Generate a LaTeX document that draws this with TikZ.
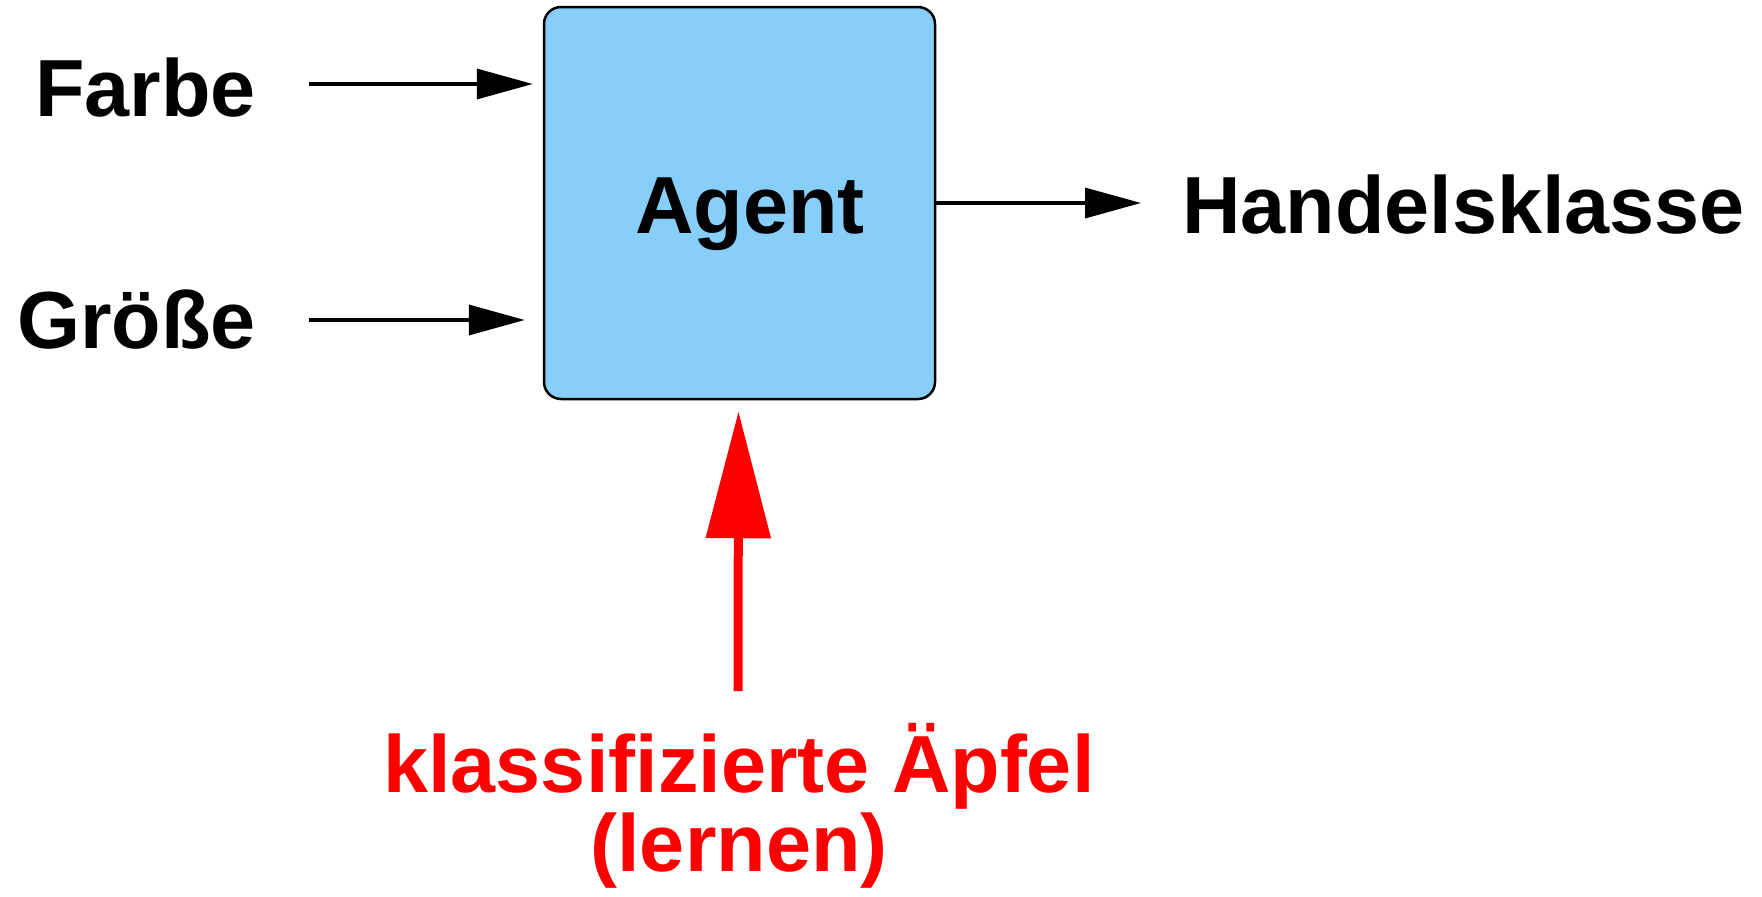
\documentclass[tikz,border=0pt]{standalone}
\usepackage{fontspec}
\setmainfont{Liberation Sans}
\usetikzlibrary{arrows.meta}
\definecolor{agentblue}{RGB}{135,206,250}
\tikzset{
  lbl/.style={inner sep=0pt, font=\fontsize{81pt}{79pt}\selectfont\bfseries},
  arr/.style={line width=3.5pt, -{Triangle[length=56pt,width=30pt]}},
  learnarr/.style={draw=red, line width=9pt, -{Triangle[length=127pt,width=63pt]}},
  agentbox/.style={draw=black, line width=2.5pt, fill=agentblue, rounded corners=17pt,
    minimum width=391pt, minimum height=392pt, inner sep=0pt}
}
\begin{document}
\begin{tikzpicture}[x=1pt,y=-1pt]
\useasboundingbox (0,0) rectangle (1762,897);
% central agent box
\node[agentbox] (agent) at (739.5,203) {};
\node[lbl, anchor=base] (agenttext) at (750,233) {Agent};
% inputs
\node[lbl, anchor=base east] (farbe) at (256,116) {Farbe};
\node[lbl, anchor=base east] (groesse) at (256,348) {Größe};
% output
\node[lbl, anchor=base west] (handel) at (1182,233) {Handelsklasse};
% training data
\node[lbl, anchor=base, text=red] (lern1) at (739,792) {klassifizierte Äpfel};
\node[lbl, anchor=base, text=red] (lern2) at (739,871) {(lernen)};
% connectors
\draw[arr] ([xshift=53pt]farbe.east |- 0,84) -- ([xshift=-10pt]agent.west |- 0,84);
\draw[arr] ([xshift=53pt]groesse.east |- 0,320) -- ([xshift=-18pt]agent.west |- 0,320);
\draw[arr] (agent.east) -- ([xshift=-41pt]handel.west |- agent.east);
\draw[learnarr] ([xshift=-1pt]lern1.north |- 0,691) -- ([xshift=-1pt,yshift=-11pt]agent.south);
\end{tikzpicture}
\end{document}
